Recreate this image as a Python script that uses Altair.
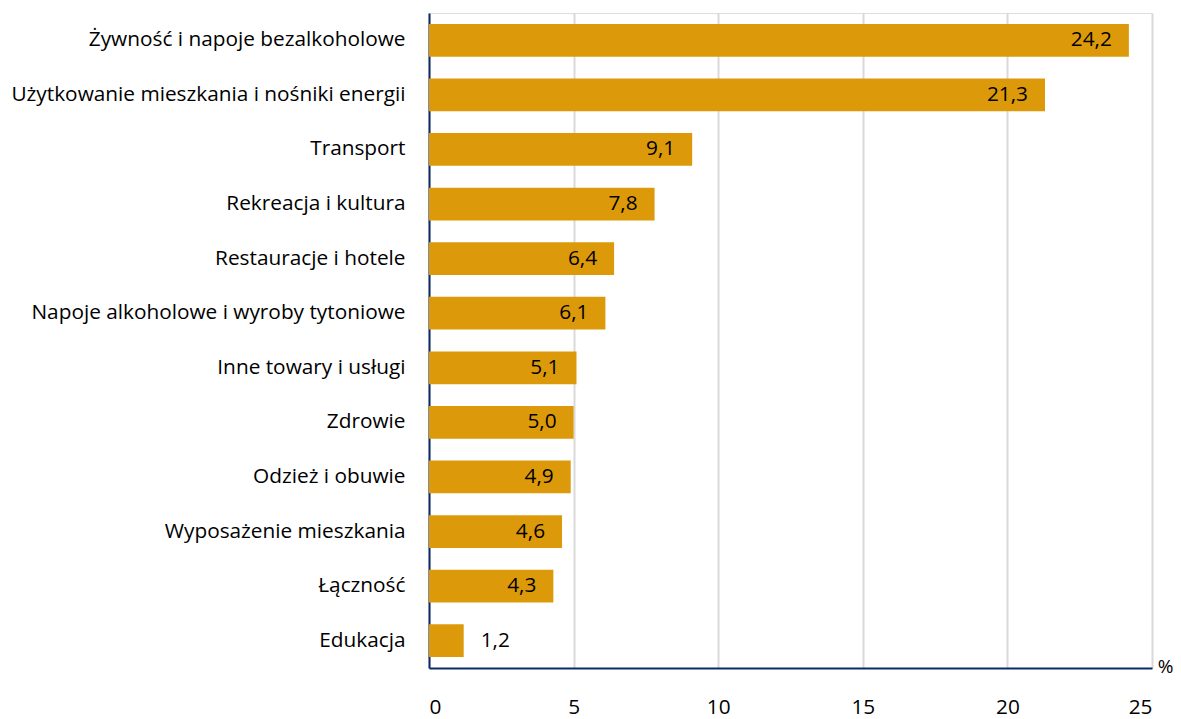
import altair as alt
import pandas as pd

categories = [
    "Żywność i napoje bezalkoholowe",
    "Użytkowanie mieszkania i nośniki energii",
    "Transport",
    "Rekreacja i kultura",
    "Restauracje i hotele",
    "Napoje alkoholowe i wyroby tytoniowe",
    "Inne towary i usługi",
    "Zdrowie",
    "Odzież i obuwie",
    "Wyposażenie mieszkania",
    "Łączność",
    "Edukacja",
]
values = [24.2, 21.3, 9.1, 7.8, 6.4, 6.1, 5.1, 5.0, 4.9, 4.6, 4.3, 1.2]
labels = ["24,2", "21,3", "9,1", "7,8", "6,4", "6,1", "5,1", "5,0", "4,9", "4,6", "4,3", "1,2"]
x_ticks = [0, 5, 10, 15, 20, 25]

df = pd.DataFrame({"cat": categories, "val": values, "lab": labels})
df["inside"] = df["val"] > 3

FONT = "Open Sans"
FS = 20.8
BAR = "#DC9A0A"
NAVY = "#0D2A66"

y_enc = alt.Y("cat:N", sort=categories,
              scale=alt.Scale(paddingInner=0.4, paddingOuter=0.2),
              axis=alt.Axis(title=None, domainColor=NAVY, domainWidth=2, ticks=False,
                            labelPadding=24, labelFont=FONT, labelFontSize=FS,
                            labelColor="#000000", labelLimit=500, grid=False))
x_enc = alt.X("val:Q", scale=alt.Scale(domain=[0, 25], nice=False),
              axis=alt.Axis(values=x_ticks, title="%", titleX=736, titleY=-2,
                            titleBaseline="middle", titleAlign="center",
                            titleFont=FONT, titleFontSize=19, titleFontWeight="normal",
                            titleColor="#000000",
                            domainColor=NAVY, domainWidth=2, ticks=False,
                            labelPadding=29, labelFont=FONT, labelFontSize=FS,
                            labelColor="#000000", gridColor="#D9D9D9", gridWidth=2))

bars = alt.Chart(df).mark_bar(color=BAR).encode(x=x_enc, y=y_enc)

text_in = alt.Chart(df).transform_filter("datum.inside").mark_text(
    align="right", baseline="middle", dx=-17, font=FONT, fontSize=FS, color="#000000"
).encode(x="val:Q", y=alt.Y("cat:N", sort=categories), text="lab:N")

text_out = alt.Chart(df).transform_filter("!datum.inside").mark_text(
    align="left", baseline="middle", dx=17, font=FONT, fontSize=FS, color="#000000"
).encode(x="val:Q", y=alt.Y("cat:N", sort=categories), text="lab:N")

chart = (bars + text_in + text_out).properties(
    width=723, height=655,
    autosize=alt.AutoSizeParams(type="none"),
    padding={"left": 421, "top": 5, "right": 21, "bottom": 50},
).configure_view(stroke=None).configure(background="#FFFFFF")

chart.save("out.html", embed_options={"renderer": "svg", "actions": False})
